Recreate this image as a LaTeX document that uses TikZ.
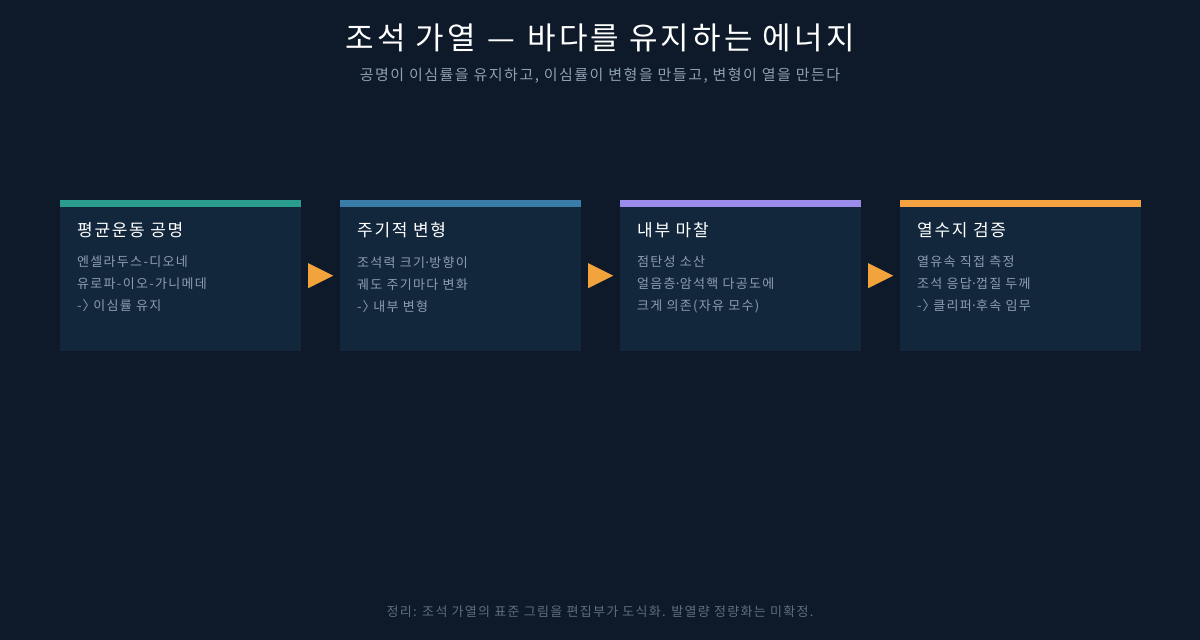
\documentclass[tikz,border=0pt]{standalone}
\usepackage{fontspec}
\usetikzlibrary{calc}
\setmainfont{Noto Sans CJK KR}[LetterSpace=10]
\definecolor{bg}{HTML}{0E1A29}
\definecolor{card}{HTML}{13273C}
\definecolor{titlec}{HTML}{FFFFFF}
\definecolor{subc}{HTML}{8FA0B3}
\definecolor{bodyc}{HTML}{8D9DB0}
\definecolor{footc}{HTML}{5E6E80}
\definecolor{arr}{HTML}{F2A33C}
\definecolor{cA}{HTML}{2A9D8F}
\definecolor{cB}{HTML}{3A7CA8}
\definecolor{cC}{HTML}{9B8CEB}
\definecolor{cD}{HTML}{F4A340}
\newcommand{\arw}{-\kern1pt〉\kern-0.5em\ }
\newcommand{\mdot}{\kern-0.12em·\kern-0.12em}
\tikzset{
  cardbox/.style={fill=card, draw=none, minimum width=241pt, minimum height=151pt, anchor=north west, inner sep=0pt},
  cardbar/.style={fill=#1, draw=none, minimum width=241pt, minimum height=7pt, anchor=north west, inner sep=0pt},
  cardtitle/.style={anchor=west, inner sep=0pt, text=titlec, font=\fontsize{17}{20}\selectfont},
  cardbody/.style={anchor=north west, inner sep=0pt, text=bodyc, align=left, font=\fontsize{13}{22}\selectfont},
  flowarrow/.style={fill=arr, draw=none},
}
\begin{document}
\begin{tikzpicture}[x=1pt,y=-1pt]
\fill[bg] (0,0) rectangle (1200,640);
\useasboundingbox (0,0) rectangle (1200,640);
\node[text=titlec, font=\fontsize{31}{36}\selectfont, inner sep=0pt] (title) at (600,38) {조석 가열 \kern2pt—\kern2pt\ 바다를 유지하는 에너지};
\node[text=subc, font=\fontsize{15}{18}\selectfont, inner sep=0pt] (sub) at (600,76) {공명이 이심률을 유지하고, 이심률이 변형을 만들고, 변형이 열을 만든다};
% cards
\foreach \i/\x/\c/\t/\b in {
  1/60/cA/{평균운동 공명}/{엔셀라두스-디오네\\유로파-이오-가니메데\\\arw 이심률 유지},
  2/340/cB/{주기적 변형}/{조석력 크기\mdot 방향이\\궤도 주기마다 변화\\\arw 내부 변형},
  3/620/cC/{내부 마찰}/{점탄성 소산\\얼음층\mdot 암석핵 다공도에\\크게 의존(자유 모수)},
  4/900/cD/{열수지 검증}/{열유속 직접 측정\\조석 응답\mdot 껍질 두께\\\arw 클리퍼\mdot 후속 임무}}{
  \node[cardbox] (card\i) at (\x,200) {};
  \node[cardbar=\c] (bar\i) at (\x,200) {};
  \node[cardtitle] (ct\i) at (\x+17,230) {\t};
  \node[cardbody] (cb\i) at (\x+17,256) {\b};
}
\foreach \a/\b in {1/2,2/3,3/4}{
  \coordinate (m\a) at ($(card\a.east)!0.5!(card\b.west)$);
  \fill[flowarrow] ([xshift=-12.5pt,yshift=-12.5pt]m\a) -- ([xshift=12.5pt]m\a) -- ([xshift=-12.5pt,yshift=12.5pt]m\a) -- cycle;
}
\node[text=footc, font=\fontsize{13}{16}\selectfont, inner sep=0pt] (foot) at (600,612) {정리: 조석 가열의 표준 그림을 편집부가 도식화. 발열량 정량화는 미확정.};
\end{tikzpicture}
\end{document}
